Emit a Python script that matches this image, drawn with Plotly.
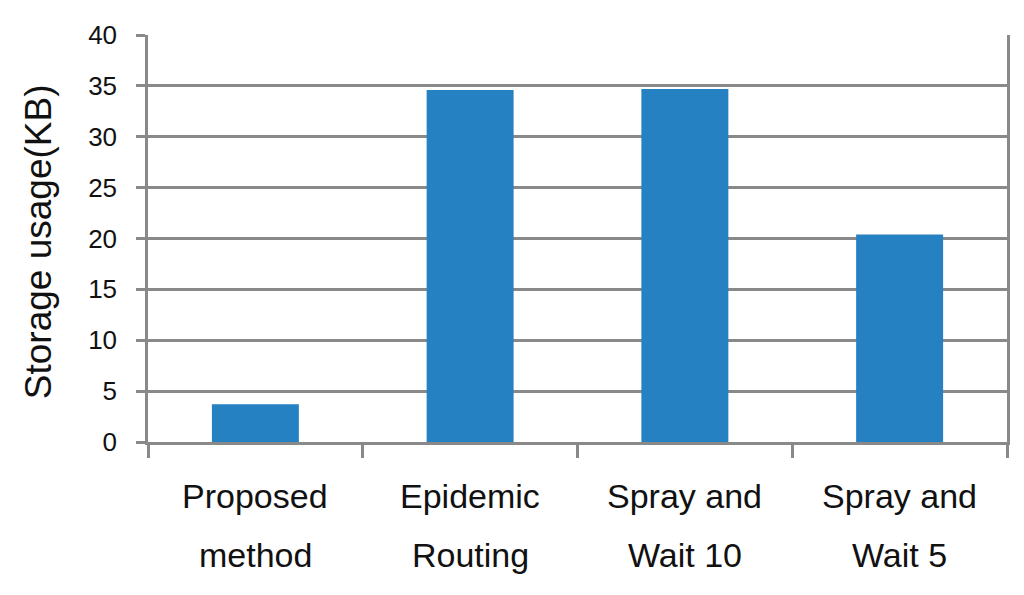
import plotly.graph_objects as go

categories = ["Proposed method", "Epidemic Routing", "Spray and Wait 10", "Spray and Wait 5"]
label_line1 = ["Proposed", "Epidemic", "Spray and", "Spray and"]
label_line2 = ["method", "Routing", "Wait 10", "Wait 5"]
storage_kb = [3.7, 34.6, 34.7, 20.4]
y_ticks = [0, 5, 10, 15, 20, 25, 30, 35, 40]

FONT = "Liberation Sans, Arial, sans-serif"
GRID = "#898989"

fig = go.Figure(
    go.Bar(x=categories, y=storage_kb, marker=dict(color="#2581C2", line=dict(width=0)))
)

annotations = []
for cat, l1, l2 in zip(categories, label_line1, label_line2):
    annotations.append(dict(x=cat, xref="x", y=-0.133, yref="paper", text=l1, showarrow=False,
                            xanchor="center", yanchor="middle", font=dict(family=FONT, size=34, color="#111")))
    annotations.append(dict(x=cat, xref="x", y=-0.278, yref="paper", text=l2, showarrow=False,
                            xanchor="center", yanchor="middle", font=dict(family=FONT, size=34, color="#111")))
annotations.append(dict(x=-0.128, xref="paper", y=0.491, yref="paper", text="Storage usage(KB)",
                        textangle=-90, showarrow=False, xanchor="center", yanchor="middle",
                        font=dict(family=FONT, size=37, color="#111")))

# page has an 8px body margin, so the figure is 1016x587 placed at (8, 8)
fig.update_layout(
    width=1016, height=587,
    margin=dict(l=140, r=17, t=27, b=153, autoexpand=False),
    paper_bgcolor="white", plot_bgcolor="white",
    bargap=0.595,
    showlegend=False,
    annotations=annotations,
    font=dict(family=FONT, color="#111"),
)
fig.update_xaxes(
    showticklabels=False,
    tickson="boundaries", ticks="outside", ticklen=13, tickwidth=2.5, tickcolor=GRID,
    showline=True, linecolor=GRID, linewidth=2.5,
    showgrid=False, zeroline=False,
)
fig.update_yaxes(
    range=[0, 40], tickvals=y_ticks, ticktext=[str(v) for v in y_ticks],
    ticks="outside", ticklen=9, tickwidth=2.5, tickcolor=GRID,
    ticklabelstandoff=14,
    tickfont=dict(family=FONT, size=26, color="#111"),
    showline=True, mirror=True, linecolor=GRID, linewidth=2.5,
    showgrid=True, gridcolor=GRID, gridwidth=2.5, zeroline=False,
)

fig.write_html("out.html")
